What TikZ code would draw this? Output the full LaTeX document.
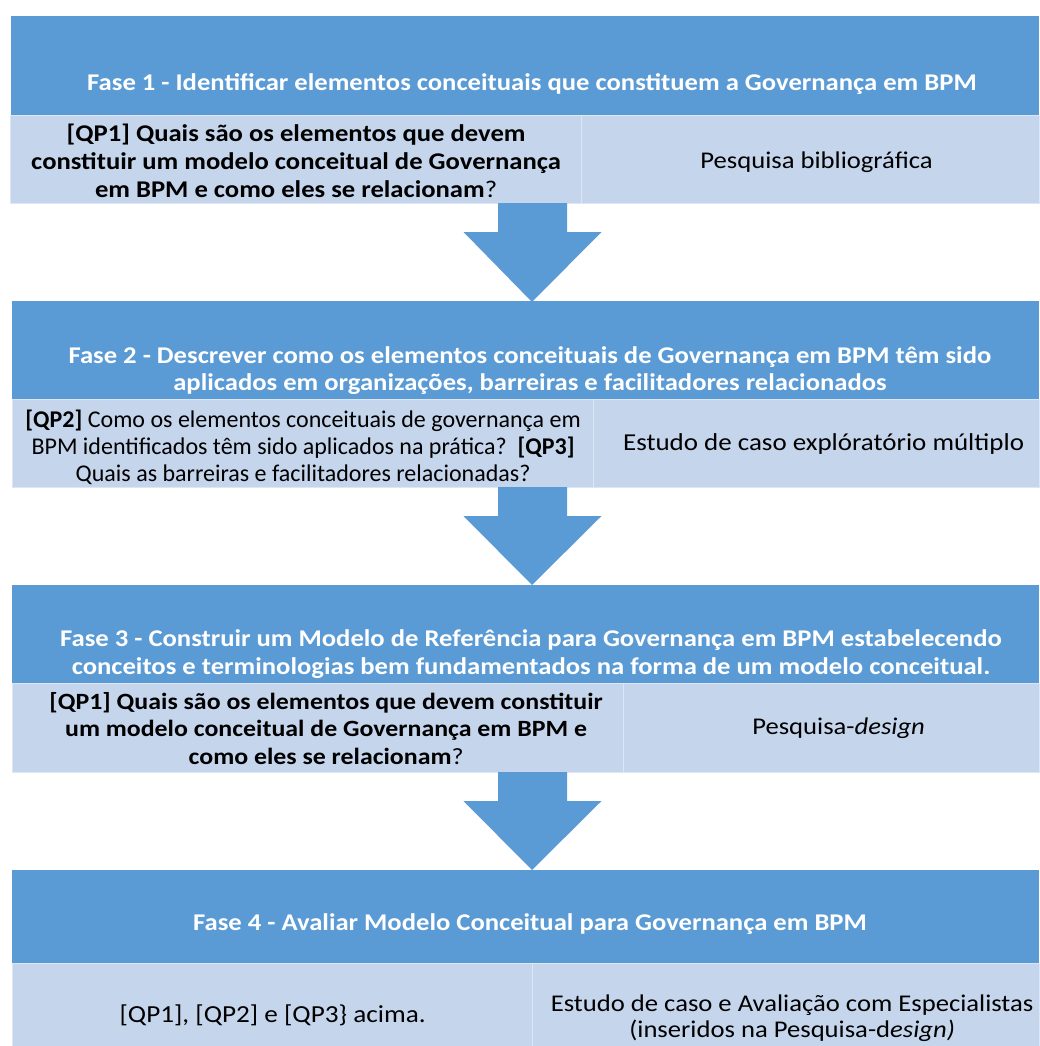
\documentclass[tikz,border=0pt]{standalone}
\usepackage{fontspec}
\setmainfont{Carlito}[FakeStretch=1.11]
\newfontfamily\plainfont{Carlito}
\usetikzlibrary{calc}
\definecolor{hdrblue}{RGB}{91,155,213}
\definecolor{cellblue}{RGB}{197,213,236}
\definecolor{celledge}{RGB}{220,230,244}
\tikzset{
  hdr/.style={fill=hdrblue, draw=none, anchor=north west, inner sep=0pt},
  cell/.style={fill=cellblue, draw=celledge, line width=1.2pt, anchor=north west, inner sep=0pt},
  hdrtxt/.style={text=white, font=\fontsize{24}{27}\selectfont\bfseries, align=center, inner sep=0pt},
  celltxt/.style={text=black, font=\fontsize{24}{27.5}\selectfont, align=center, inner sep=0pt},
  downarrow/.style={fill=hdrblue, draw=none}
}
\newcommand{\phasearrow}[2]{%
  % #1 = top coordinate (centre of shaft top), #2 = tip coordinate
  \fill[hdrblue] ($(#1)+(-34.5,0)$) -- ($(#1)+(34.5,0)$) -- ($(#1)+(34.5,29)$) -- ($(#1)+(69,29)$) -- (#2) -- ($(#1)+(-69,29)$) -- ($(#1)+(-34.5,29)$) -- cycle;}
\begin{document}
\begin{tikzpicture}[x=1pt,y=-1pt]
\useasboundingbox (0,0) rectangle (1039,1046);
\fill[white] (0,0) rectangle (1039,1046);

% ---------- Phase 1 ----------
\node[hdr, minimum width=1028pt, minimum height=99pt] (h1) at (11,16) {};
\node[hdrtxt] (h1t) at (532,84) {Fase 1 - Identificar elementos conceituais que constituem a Governança em BPM};
\node[cell, minimum width=571pt, minimum height=88pt] (l1) at (10,115) {};
\node[cell, minimum width=458pt, minimum height=88pt] (r1) at (581,115) {};
\node[celltxt, font=\fontsize{24}{28}\selectfont\bfseries] (l1t) at ($(l1.center)+(0,1)$) {[QP1] Quais são os elementos que devem\\constituir um modelo conceitual de Governança\\em BPM e como eles se relacionam\textmd{?}};
\node[celltxt] (r1t) at ($(r1.center)+(6,3)$) {Pesquisa bibliográfica};

% ---------- Phase 2 ----------
\node[hdr, minimum width=1027pt, minimum height=98pt] (h2) at (12,301) {};
\node[hdrtxt] (h2t) at (530,371) {Fase 2 - Descrever como os elementos conceituais de Governança em BPM têm sido\\aplicados em organizações, barreiras e facilitadores relacionados};
\node[cell, minimum width=581pt, minimum height=88pt] (l2) at (12,399) {};
\node[cell, minimum width=446pt, minimum height=88pt] (r2) at (593,399) {};
\node[celltxt, font=\plainfont\fontsize{24}{27}\selectfont] (l2t) at ($(l2.center)+(0,4)$) {\textbf{[QP2]} Como os elementos conceituais de governança em\\BPM identificados têm sido aplicados na prática?\ \ \textbf{[QP3]}\\Quais as barreiras e facilitadores relacionadas?};
\node[celltxt, font=\fontsize{24.3}{28}\selectfont] (r2t) at ($(r2.center)+(7,0)$) {Estudo de caso explóratório múltiplo};

% ---------- Phase 3 ----------
\node[hdr, minimum width=1027pt, minimum height=98pt] (h3) at (12,585) {};
\node[hdrtxt, font=\fontsize{24}{28.5}\selectfont\bfseries] (h3t) at (531,654) {Fase 3 - Construir um Modelo de Referência para Governança em BPM estabelecendo\\conceitos e terminologias bem fundamentados na forma de um modelo conceitual.};
\node[cell, minimum width=611pt, minimum height=89pt] (l3) at (12,683) {};
\node[cell, minimum width=416pt, minimum height=89pt] (r3) at (623,683) {};
\node[celltxt, font=\fontsize{23.3}{27.5}\selectfont\bfseries] (l3t) at ($(l3.center)+(8,0)$) {[QP1] Quais são os elementos que devem constituir\\um modelo conceitual de Governança em BPM e\\como eles se relacionam\textmd{?}};
\node[celltxt] (r3t) at ($(r3.center)+(7,0)$) {Pesquisa-\textit{design}};

% ---------- Phase 4 ----------
\node[hdr, minimum width=1027pt, minimum height=93pt] (h4) at (12,870) {};
\node[hdrtxt] (h4t) at (530,924) {Fase 4 - Avaliar Modelo Conceitual para Governança em BPM};
\node[cell, minimum width=520pt, minimum height=84pt] (l4) at (12,963) {};
\node[cell, minimum width=507pt, minimum height=84pt] (r4) at (532,963) {};
\node[celltxt, font=\fontsize{24.5}{28}\selectfont] (l4t) at ($(l4.center)+(0,10)$) {[QP1], [QP2] e [QP3\} acima.};
\node[celltxt, font=\fontsize{24}{26}\selectfont] (r4t) at ($(r4.center)+(6,13)$) {Estudo de caso e Avaliação com Especialistas\\(inseridos na Pesquisa-d\textit{esign)}};

% ---------- Arrows ----------
\coordinate (a1s) at (532.5,203);
\coordinate (a1e) at (532,302);
\coordinate (a2s) at (532.5,487);
\coordinate (a2e) at (532,585);
\coordinate (a3s) at (532.5,772);
\coordinate (a3e) at (532,870);
\phasearrow{a1s}{a1e}
\phasearrow{a2s}{a2e}
\phasearrow{a3s}{a3e}
\end{tikzpicture}
\end{document}
